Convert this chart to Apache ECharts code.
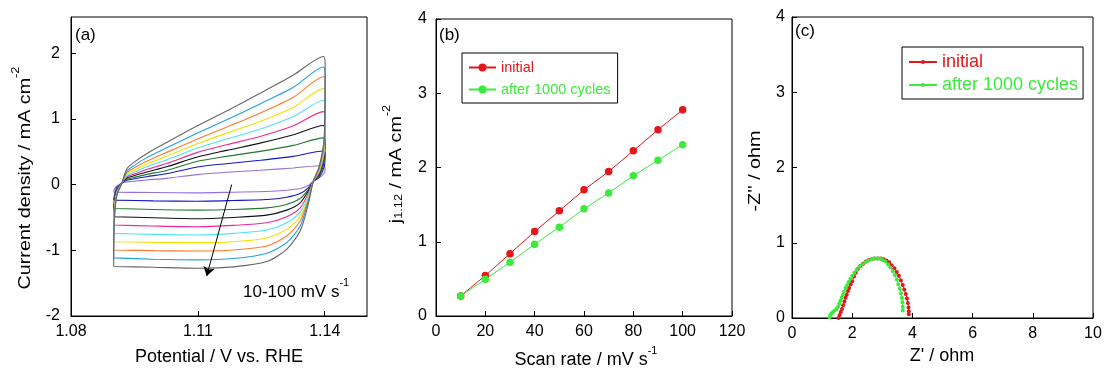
<!DOCTYPE html>
<html><head><meta charset="utf-8">
<script src="https://cdn.jsdelivr.net/npm/echarts@6/dist/echarts.min.js"></script>
<style>html,body{margin:0;padding:0;background:#fff}#c{width:1105px;height:370px}</style>
</head><body><div id="c"></div>
<script>
// ---------- Panel (a): CV loops (potential path shared, current per scan rate) ----------
const cvPotential = [1.0901, 1.0902, 1.0908, 1.0920, 1.0932, 1.0947, 1.0979, 1.1026, 1.1099, 1.1168, 1.1247, 1.1326, 1.1397, 1.1401, 1.1399, 1.1387, 1.1373, 1.1361, 1.1342, 1.1310, 1.1263, 1.1184, 1.1099, 1.0995, 1.0901];
const cv10  = [-0.116,-0.076,-0.025,0.025,0.04,0.05,0.07,0.095,0.152,0.187,0.217,0.253,0.29,0.237,0.177,0.101,0.05,-0.015,-0.061,-0.086,-0.106,-0.116,-0.126,-0.121,-0.116];
const cv20  = [-0.237,-0.187,-0.05,0.02,0.065,0.085,0.12,0.165,0.268,0.318,0.369,0.429,0.51,0.48,0.278,0.111,0.05,-0.05,-0.136,-0.192,-0.227,-0.242,-0.253,-0.248,-0.237];
const cv30  = [-0.364,-0.253,-0.076,0.02,0.08,0.105,0.155,0.215,0.354,0.429,0.505,0.596,0.71,0.657,0.354,0.126,0.05,-0.076,-0.212,-0.303,-0.354,-0.379,-0.389,-0.379,-0.364];
const cv40  = [-0.49,-0.303,-0.101,0.02,0.10,0.13,0.19,0.27,0.419,0.52,0.631,0.758,0.90,0.833,0.429,0.152,0.05,-0.101,-0.278,-0.389,-0.465,-0.5,-0.52,-0.505,-0.49];
const cv50  = [-0.616,-0.354,-0.116,0.02,0.12,0.155,0.23,0.32,0.49,0.606,0.732,0.894,1.11,1.01,0.48,0.177,0.05,-0.136,-0.354,-0.49,-0.581,-0.621,-0.642,-0.631,-0.616];
const cv60  = [-0.743,-0.404,-0.126,0.02,0.14,0.18,0.27,0.375,0.556,0.692,0.843,1.035,1.28,1.187,0.53,0.197,0.05,-0.167,-0.419,-0.581,-0.692,-0.743,-0.768,-0.758,-0.743];
const cv70  = [-0.869,-0.455,-0.137,0.02,0.16,0.21,0.31,0.43,0.621,0.783,0.96,1.177,1.46,1.364,0.581,0.217,0.05,-0.202,-0.49,-0.682,-0.813,-0.869,-0.884,-0.879,-0.869];
const cv80  = [-0.995,-0.505,-0.152,0.02,0.18,0.245,0.355,0.49,0.692,0.874,1.086,1.328,1.64,1.54,0.631,0.237,0.05,-0.227,-0.555,-0.783,-0.934,-0.995,-1.01,-1.005,-0.995];
const cv90  = [-1.116,-0.58,-0.167,0.02,0.20,0.28,0.41,0.56,0.783,0.985,1.227,1.48,1.79,1.692,0.682,0.253,0.05,-0.253,-0.631,-0.884,-1.045,-1.126,-1.146,-1.136,-1.116];
const cv100 = [-1.247,-0.631,-0.177,0.02,0.24,0.33,0.47,0.64,0.894,1.121,1.389,1.667,1.95,1.843,0.732,0.278,0.05,-0.303,-0.707,-0.985,-1.172,-1.253,-1.273,-1.258,-1.247];
const cvCurves = [cv10, cv20, cv30, cv40, cv50, cv60, cv70, cv80, cv90, cv100];
const cvNames = ['10','20','30','40','50','60','70','80','90','100'];
const cvColors = ['#9370DB','#1414CC','#1F7A2E','#111111','#F0288C','#4FE3F2','#F5E000','#FF7A2A','#1E9FE8','#666666'];
const arrowStart = [1.1180, 0.0];
const arrowEnd = [1.1121, -1.39];

// ---------- Panel (b): j vs scan rate ----------
const scanRates = [10, 20, 30, 40, 50, 60, 70, 80, 90, 100];
const jInitial = [0.27, 0.544, 0.84, 1.137, 1.416, 1.699, 1.946, 2.225, 2.508, 2.778];
const jAfter   = [0.27, 0.494, 0.724, 0.966, 1.196, 1.443, 1.658, 1.888, 2.099, 2.306];

// ---------- Panel (c): Nyquist ----------
const zInitRe = [1.55,1.58,1.62,1.66,1.70,1.74,1.78,1.82,1.86,1.90,1.95,2.00,2.06,2.12,2.19,2.27,2.36,2.45,2.55,2.65,2.75,2.85,2.95,3.05,3.14,3.23,3.31,3.40,3.48,3.55,3.62,3.68,3.73,3.78,3.82,3.85,3.87,3.88,3.88];
const zInitIm = [0.0,0.04,0.08,0.12,0.17,0.22,0.27,0.31,0.36,0.40,0.45,0.49,0.55,0.60,0.65,0.69,0.72,0.75,0.77,0.78,0.79,0.79,0.79,0.78,0.76,0.74,0.70,0.66,0.61,0.56,0.50,0.44,0.38,0.32,0.26,0.20,0.14,0.09,0.05];
const zAftRe = [1.25,1.27,1.31,1.36,1.42,1.48,1.53,1.57,1.61,1.65,1.69,1.73,1.78,1.83,1.88,1.94,2.00,2.07,2.15,2.24,2.33,2.43,2.53,2.63,2.73,2.83,2.92,3.01,3.10,3.19,3.27,3.35,3.42,3.48,3.53,3.58,3.62,3.65,3.67,3.68,3.68];
const zAftIm = [0.01,0.04,0.06,0.08,0.10,0.12,0.15,0.19,0.23,0.27,0.31,0.35,0.40,0.44,0.48,0.52,0.56,0.60,0.64,0.68,0.71,0.74,0.76,0.78,0.79,0.79,0.79,0.77,0.75,0.71,0.67,0.62,0.57,0.51,0.45,0.39,0.33,0.27,0.21,0.15,0.10];

const legendLabels = { b_init: 'initial', b_after: 'after 1000 cycles', c_init: 'initial', c_after: 'after 1000 cycles' };
const RED = '#E3161C', GREEN = '#3BEA3B';
const FONT = 'Liberation Sans, Arial, sans-serif';

function xAx(grid, min, max, interval, opts) {
  return Object.assign({
    type: 'value', gridIndex: grid, min: min, max: max, interval: interval,
    axisLine: { onZero: false, lineStyle: { color: '#000', width: 1 } },
    axisTick: { inside: true, length: 5, lineStyle: { color: '#000' } },
    axisLabel: { color: '#000', fontSize: 16, fontFamily: FONT, margin: 8 },
    splitLine: { show: false }
  }, opts || {});
}

const chart = echarts.init(document.getElementById('c'), null, { renderer: 'canvas' });
const series = [];
cvCurves.forEach((arr, i) => {
  series.push({
    type: 'line', name: 'cv' + cvNames[i], xAxisIndex: 0, yAxisIndex: 0,
    data: cvPotential.map((v, k) => [v, arr[k]]),
    showSymbol: false, symbol: 'none', smooth: 0.25,
    lineStyle: { color: cvColors[i], width: 1.1 }, itemStyle: { color: cvColors[i] },
    z: 2
  });
});
series[0].markLine = {
  silent: true, symbol: ['none', 'arrow'], symbolSize: 9, animation: false,
  lineStyle: { color: '#000', width: 1, type: 'solid' }, label: { show: false },
  data: [[{ coord: arrowStart }, { coord: arrowEnd }]]
};
series.push({
  type: 'line', name: 'b_init', xAxisIndex: 1, yAxisIndex: 1,
  data: scanRates.map((x, k) => [x, jInitial[k]]),
  symbol: 'circle', symbolSize: 7.5, lineStyle: { color: RED, width: 1 }, itemStyle: { color: RED }
});
series.push({
  type: 'line', name: 'b_after', xAxisIndex: 1, yAxisIndex: 1,
  data: scanRates.map((x, k) => [x, jAfter[k]]),
  symbol: 'circle', symbolSize: 7.5, lineStyle: { color: GREEN, width: 1 }, itemStyle: { color: GREEN }
});
series.push({
  type: 'line', name: 'c_init', xAxisIndex: 2, yAxisIndex: 2,
  data: zInitRe.map((x, k) => [x, zInitIm[k]]),
  symbol: 'circle', symbolSize: 4, lineStyle: { color: RED, width: 1 }, itemStyle: { color: RED }
});
series.push({
  type: 'line', name: 'c_after', xAxisIndex: 2, yAxisIndex: 2,
  data: zAftRe.map((x, k) => [x, zAftIm[k]]),
  symbol: 'circle', symbolSize: 4, lineStyle: { color: GREEN, width: 1 }, itemStyle: { color: GREEN }
});

function txt(x, y, text, size, extra) {
  return Object.assign({ type: 'text', x: x, y: y, style: Object.assign({ text: text, fontSize: size, fontFamily: FONT, fill: '#000', align: 'center', verticalAlign: 'middle' }, (extra && extra.style) || {}) }, (extra && extra.el) || {});
}
const supRich = (size) => ({
  n: { fontSize: size, fontFamily: FONT, lineHeight: size + 6, verticalAlign: 'bottom' },
  sup: { fontSize: Math.round(size * 0.62), fontFamily: FONT, lineHeight: Math.round(size * 0.62) + 2, verticalAlign: 'top' },
  sub: { fontSize: Math.round(size * 0.62), fontFamily: FONT, lineHeight: Math.round(size * 0.62) + 2, verticalAlign: 'bottom' }
});

const graphics = [
  txt(75, 35, '(a)', 17, { style: { align: 'left' } }),
  txt(439, 35, '(b)', 17, { style: { align: 'left' } }),
  txt(795, 31, '(c)', 17, { style: { align: 'left' } }),
  { type: 'text', x: 243, y: 289, style: { text: '{n|10-100 mV s}{sup|-1}', rich: supRich(17), fill: '#000', align: 'left', verticalAlign: 'middle' } },
  txt(219, 357, 'Potential / V vs. RHE', 18),
  { type: 'text', x: 586, y: 357, style: { text: '{n|Scan rate / mV s}{sup|-1}', rich: supRich(18), fill: '#000', align: 'center', verticalAlign: 'middle' } },
  txt(942, 356, "Z' / ohm", 18),
  { type: 'text', x: 22, y: 178, rotation: Math.PI / 2, scaleX: 1.16, style: { text: '{n|Current density / mA cm}{sup|-2}', rich: supRich(17), fill: '#000', align: 'center', verticalAlign: 'middle' } },
  { type: 'text', x: 393, y: 164, rotation: Math.PI / 2, scaleX: 1.16, style: { text: '{n|j}{sub|1.12}{n| / mA cm}{sup|-2}', rich: supRich(17), fill: '#000', align: 'center', verticalAlign: 'middle' } },
  { type: 'text', x: 755, y: 171, rotation: Math.PI / 2, scaleX: 1.16, style: { text: "-Z'' / ohm", fontSize: 17, fontFamily: FONT, fill: '#000', align: 'center', verticalAlign: 'middle' } }
];

const gridStyle = { show: true, borderColor: '#000', borderWidth: 1, backgroundColor: 'transparent' };
const option = {
  animation: false,
  backgroundColor: '#fff',
  textStyle: { fontFamily: FONT },
  grid: [
    Object.assign({ left: 71, top: 17, width: 296, height: 299 }, gridStyle),
    Object.assign({ left: 436, top: 19, width: 296, height: 297 }, gridStyle),
    Object.assign({ left: 792, top: 17, width: 301, height: 301 }, gridStyle)
  ],
  xAxis: [
    xAx(0, 1.08, 1.15, 0.03, { axisLabel: { color: '#000', fontSize: 16, fontFamily: FONT, margin: 8, showMaxLabel: false, formatter: v => v.toFixed(2) } }),
    xAx(1, 0, 120, 20),
    xAx(2, 0, 10, 2)
  ],
  yAxis: [
    xAx(0, -2, 2.55, 1, { axisLabel: { color: '#000', fontSize: 16, fontFamily: FONT, margin: 11, showMaxLabel: false, formatter: v => String(Math.round(v)) } }),
    xAx(1, 0, 4, 1, { axisLabel: { color: '#000', fontSize: 16, fontFamily: FONT, margin: 9 } }),
    xAx(2, 0, 4, 1, { axisLabel: { color: '#000', fontSize: 16, fontFamily: FONT, margin: 7 } })
  ],
  legend: [
    {
      data: [{ name: 'b_init', textStyle: { color: RED } }, { name: 'b_after', textStyle: { color: GREEN } }],
      formatter: n => legendLabels[n], orient: 'vertical', left: 462, top: 53,
      padding: [7, 7, 6, 6], itemGap: 7, itemWidth: 27, itemHeight: 10,
      borderColor: '#000', borderWidth: 1, borderRadius: 0, selectedMode: false,
      textStyle: { fontSize: 14.5, fontFamily: FONT }
    },
    {
      data: [{ name: 'c_init', textStyle: { color: RED } }, { name: 'c_after', textStyle: { color: GREEN } }],
      formatter: n => legendLabels[n], orient: 'vertical', left: 902, top: 47,
      padding: [6, 5, 5, 6], itemGap: 5, itemWidth: 28, itemHeight: 5,
      borderColor: '#000', borderWidth: 1, borderRadius: 0, selectedMode: false,
      textStyle: { fontSize: 18, fontFamily: FONT }
    }
  ],
  graphic: graphics,
  series: series
};
chart.setOption(option);
</script></body></html>
